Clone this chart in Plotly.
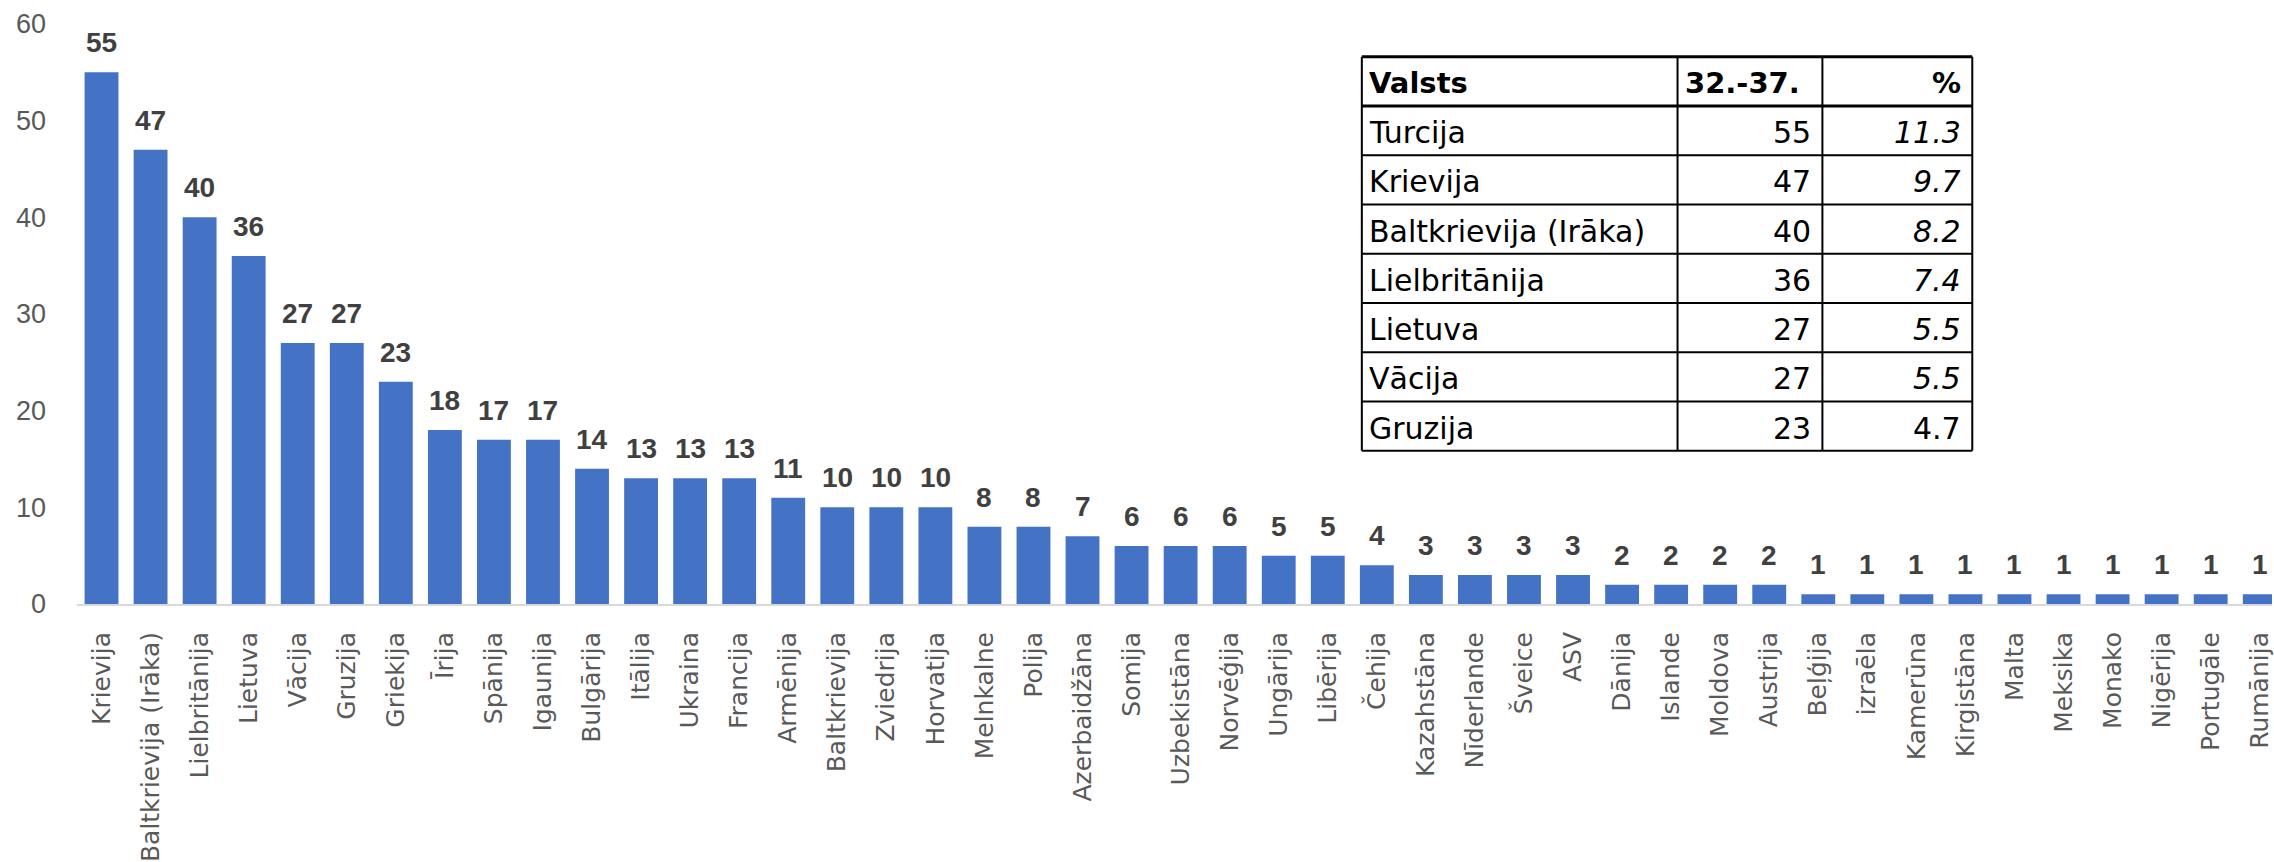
import plotly.graph_objects as go

countries = ["Krievija", "Baltkrievija (Irāka)", "Lielbritānija", "Lietuva", "Vācija", "Gruzija",
             "Griekija", "Īrija", "Spānija", "Igaunija", "Bulgārija", "Itālija", "Ukraina", "Francija",
             "Armēnija", "Baltkrievija", "Zviedrija", "Horvatija", "Melnkalne", "Polija", "Azerbaidžāna",
             "Somija", "Uzbekistāna", "Norvēģija", "Ungārija", "Libērija", "Čehija", "Kazahstāna",
             "Nīderlande", "Šveice", "ASV", "Dānija", "Islande", "Moldova", "Austrija", "Beļģija",
             "izraēla", "Kamerūna", "Kirgistāna", "Malta", "Meksika", "Monako", "Nigērija",
             "Portugāle", "Rumānija"]
values = [55, 47, 40, 36, 27, 27, 23, 18, 17, 17, 14, 13, 13, 13, 11, 10, 10, 10, 8, 8, 7, 6, 6, 6,
          5, 5, 4, 3, 3, 3, 3, 2, 2, 2, 2, 1, 1, 1, 1, 1, 1, 1, 1, 1, 1]
y_ticks = [0, 10, 20, 30, 40, 50, 60]

table_header = ["Valsts", "32.-37.", "%"]
table_countries = ["Turcija", "Krievija", "Baltkrievija (Irāka)", "Lielbritānija", "Lietuva", "Vācija", "Gruzija"]
table_counts = [55, 47, 40, 36, 27, 27, 23]
table_pct = [11.3, 9.7, 8.2, 7.4, 5.5, 5.5, 4.7]
table_pct_italic = [True, True, True, True, True, True, False]

W, H = 2274, 862
ML, MR, MT, MB = 77, 0, 24, 254
pw = W - ML - MR
ph = H - MT - MB


def px_x(x):
    return (x - ML) / pw


def px_y(y):
    return (H - MB - y) / ph


fig = go.Figure()
fig.add_trace(go.Bar(
    x=countries, y=values, marker=dict(color="#4472C4", line=dict(width=0)),
    hoverinfo="x+y", showlegend=False,
))

annotations = []
for c, v in zip(countries, values):
    annotations.append(dict(
        x=c, y=v, xref="x", yref="y", text=f"<b>{v}</b>", showarrow=False,
        yanchor="bottom", yshift=12,
        font=dict(family="Liberation Sans, Arial, sans-serif", size=28, color="#404040"),
    ))

# ---- table (drawn as shapes + text) ----
col_edges = [1363, 1679, 1824, 1974]
row_top = 57
row_h = 49.6
n_rows = len(table_countries) + 1
shapes = []
line_style = dict(color="black", width=2)
for i in range(n_rows + 1):
    yy = px_y(row_top + i * row_h)
    shapes.append(dict(type="line", xref="paper", yref="paper",
                       x0=px_x(col_edges[0]), x1=px_x(col_edges[-1]), y0=yy, y1=yy,
                       line=dict(color="black", width=3 if i in (0, 1) else 2)))
for xe in col_edges:
    shapes.append(dict(type="line", xref="paper", yref="paper",
                       x0=px_x(xe), x1=px_x(xe),
                       y0=px_y(row_top), y1=px_y(row_top + n_rows * row_h), line=line_style))

tfont = dict(family="DejaVu Sans", size=30, color="black")
hfont = dict(family="DejaVu Sans", size=29, color="black")


def cell(text, row, col, align, font):
    yc = px_y(row_top + row * row_h + row_h / 2)
    if align == "left":
        xx, xa = px_x(col_edges[col] + 5), "left"
    else:
        xx, xa = px_x(col_edges[col + 1] - 9), "right"
    return dict(x=xx, y=yc, xref="paper", yref="paper", text=text, showarrow=False,
                xanchor=xa, yanchor="middle", yshift=-2, font=font)


header_align = ["left", "left", "right"]
for j, h in enumerate(table_header):
    annotations.append(cell(f"<b>{h}</b>", 0, j, header_align[j], hfont))
for i, (cn, cnt, p, it) in enumerate(zip(table_countries, table_counts, table_pct, table_pct_italic)):
    annotations.append(cell(cn, i + 1, 0, "left", tfont))
    annotations.append(cell(str(cnt), i + 1, 1, "right", tfont))
    ptxt = f"<i>{p:.1f}</i>" if it else f"{p:.1f}"
    annotations.append(cell(ptxt, i + 1, 2, "right", tfont))

fig.update_layout(
    width=W, height=H,
    margin=dict(l=ML, r=MR, t=MT, b=MB, pad=0),
    paper_bgcolor="white", plot_bgcolor="white",
    bargap=0.31,
    annotations=annotations,
    shapes=shapes,
    xaxis=dict(
        type="category", range=[-0.5, 44.25], tickangle=-90,
        showline=True, linecolor="#D9D9D9", linewidth=2,
        showgrid=False, ticks="", ticklabelstandoff=16,
        tickfont=dict(family="DejaVu Sans", size=25, color="#595959"),
        fixedrange=True,
    ),
    yaxis=dict(
        range=[0, 60], tickvals=y_ticks, showgrid=False, zeroline=False, showline=False,
        ticks="", ticklabelstandoff=30,
        tickfont=dict(family="Liberation Sans, Arial, sans-serif", size=27, color="#595959"),
        fixedrange=True,
    ),
)

fig.write_html("out.html", config={"displayModeBar": False},
               post_script="document.body.style.margin='0';")
